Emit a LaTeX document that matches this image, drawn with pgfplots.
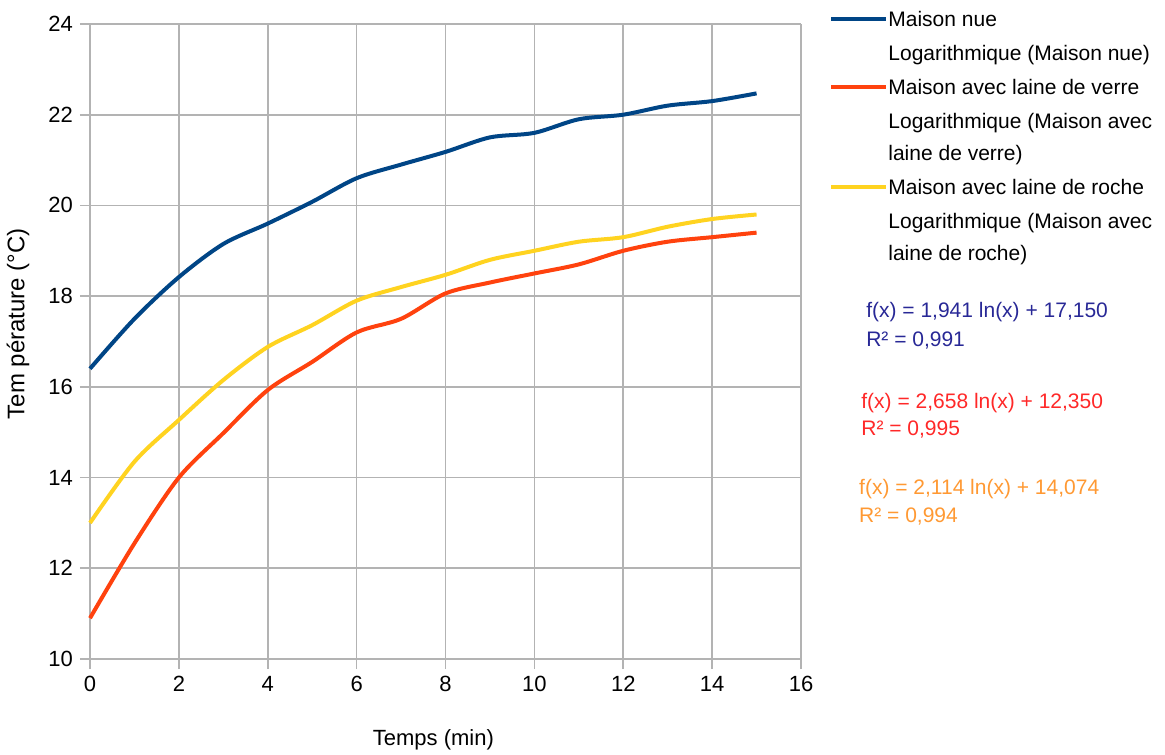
\documentclass[border=0pt]{standalone}
\usepackage{pgfplots}
\pgfplotsset{compat=1.18}
\usepackage{fontspec}
\setmainfont{Liberation Sans}
\definecolor{serA}{HTML}{004586}
\definecolor{serB}{HTML}{FF420E}
\definecolor{serC}{HTML}{FFD320}
\definecolor{gridc}{HTML}{B3B3B3}
\definecolor{eqA}{RGB}{40,40,150}
\definecolor{eqB}{RGB}{255,40,40}
\definecolor{eqC}{RGB}{255,153,51}
\newcommand\ls{\rule{0pt}{11pt}}
\begin{document}
\begin{tikzpicture}
\begin{axis}[
  scale only axis,
  width=355.5pt, height=317.5pt,
  xmin=0, xmax=16, ymin=10, ymax=24,
  xtick={0,2,...,16}, ytick={10,12,...,24},
  grid=major,
  grid style={gridc, line width=0.8pt},
  axis line style={gridc, line width=0.8pt},
  tick style={gridc, line width=0.8pt},
  major tick length=5pt,
  tick align=outside,
  axis x line*=bottom, axis y line*=left,
  ticklabel style={font=\fontsize{11}{13}\selectfont, black},
  /pgf/number format/assume math mode=true,
  xlabel={Temps (min)},
  ylabel={Tem pérature (°C)},
  x label style={font=\fontsize{11}{13}\selectfont, at={(axis description cs:0.483,-0.1276)}, anchor=center},
  y label style={font=\fontsize{12}{14}\selectfont, at={(axis description cs:-0.1013,0.528)}, anchor=center},
  clip=false,
  legend style={at={(rel axis cs:1,1)}, anchor=north west,
    xshift=11pt, yshift=12pt, draw=none, fill=none,
    font=\fontsize{10.5}{16}\selectfont,
    row sep=0pt, column sep=0pt,
    nodes={inner sep=0pt, text depth=6pt},
    cells={anchor=base west, align=left}},
  legend image code/.code={\path (0pt,0pt); \draw[#1] (0pt,3.75pt) -- (27.5pt,3.75pt);},
]
\addplot[serA, line width=2pt, smooth] coordinates {
(0,16.4) (1,17.5) (2,18.42) (3,19.15) (4,19.6) (5,20.08) (6,20.6) (7,20.9)
(8,21.18) (9,21.5) (10,21.6) (11,21.9) (12,22.0) (13,22.2) (14,22.3) (15,22.47)
};
\addlegendentry{\ls Maison nue}
\addlegendimage{empty legend}
\addlegendentry{\ls Logarithmique (Maison nue)}
\addplot[serB, line width=2pt, smooth] coordinates {
(0,10.9) (1,12.55) (2,14.0) (3,14.98) (4,15.93) (5,16.55) (6,17.2) (7,17.5)
(8,18.06) (9,18.3) (10,18.5) (11,18.7) (12,19.0) (13,19.2) (14,19.3) (15,19.4)
};
\addlegendentry{\ls Maison avec laine de verre}
\addlegendimage{empty legend}
\addlegendentry{\ls Logarithmique (Maison avec\\laine de verre)}
\addplot[serC, line width=2pt, smooth] coordinates {
(0,13.0) (1,14.35) (2,15.27) (3,16.15) (4,16.88) (5,17.36) (6,17.9) (7,18.2)
(8,18.47) (9,18.8) (10,19.0) (11,19.2) (12,19.3) (13,19.53) (14,19.7) (15,19.8)
};
\addlegendentry{\ls Maison avec laine de roche}
\addlegendimage{empty legend}
\addlegendentry{\ls Logarithmique (Maison avec\\laine de roche)}
\coordinate (pbl) at (rel axis cs:0,0);
\coordinate (ptr) at (rel axis cs:1,1);
\begin{scope}[every node/.style={anchor=base west, inner sep=0pt, font=\fontsize{10.5}{13}\selectfont}]
\node[eqA] at (axis cs:17.46,17.52) {f(x) = 1,941 ln(x) + 17,150};
\node[eqA] at (axis cs:17.46,16.88) {R² = 0,991};
\node[eqB] at (axis cs:17.35,15.53) {f(x) = 2,658 ln(x) + 12,350};
\node[eqB] at (axis cs:17.35,14.92) {R² = 0,995};
\node[eqC] at (axis cs:17.30,13.62) {f(x) = 2,114 ln(x) + 14,074};
\node[eqC] at (axis cs:17.30,13.00) {R² = 0,994};
\end{scope}
\end{axis}
\pgfresetboundingbox
\useasboundingbox ([shift={(-45pt,-47.5pt)}]pbl) rectangle ([shift={(182pt,12pt)}]ptr);
\end{tikzpicture}
\end{document}
